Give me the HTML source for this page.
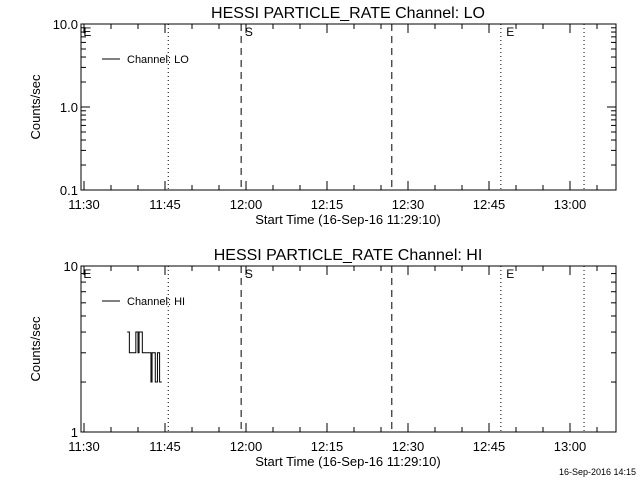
<!DOCTYPE html>
<html><head><meta charset="utf-8"><style>
body{margin:0;background:#fff;}
svg{display:block;font-family:"Liberation Sans",sans-serif;}
text{fill:#000;}
</style></head><body>
<svg id="c" width="640" height="480" xmlns="http://www.w3.org/2000/svg"></svg>
<script>
const xTickLabels=["11:30","11:45","12:00","12:15","12:30","12:45","13:00"];
const xTickMinutes=[0,15,30,45,60,75,90];
const dottedLines=[15.6,77.2,92.6];
const dashedLines=[29.1,57.0];
const flagLabels=["E","S","E"];
const flagMinutes=[-0.3,29.6,78.0];
const hiTimes=[8.0,8.4,8.8,9.2,9.6,10.0,10.2,10.4,10.8,11.2,11.6,12.0,12.4,12.6,12.8,13.2,13.6,14.0,14.4];
const hiCounts=[4,3,3,3,4,3,4,4,3,3,3,3,2,3,3,2,3,2,2];
const loTimes=[];
const loCounts=[];
const NS="http://www.w3.org/2000/svg";
const svg=document.getElementById('c');
const PX0=81,PX1=616;
function xs(m){return 84+5.4*m;}
const XMAX=(PX1-84)/5.4;
function mk(t,a,p){const e=document.createElementNS(NS,t);for(const k in a)e.setAttribute(k,a[k]);(p||svg).appendChild(e);return e;}
function panel(o){
  const g=mk('g',{});
  
  
  const top=o.top,bot=o.bot;
  const ys=v=>bot-(Math.log10(v)-Math.log10(o.ymin))/(Math.log10(o.ymax)-Math.log10(o.ymin))*(bot-top);
  const fr=mk('rect',{x:PX0,y:top,width:PX1-PX0,height:bot-top,fill:'none',stroke:'#000','stroke-width':1},g);
  
  for(let m=0;m<=XMAX;m+=5){
    const x=xs(m),maj=xTickMinutes.includes(m),L=maj?9:5;
    mk('line',{x1:x,y1:bot,x2:x,y2:bot-L,stroke:'#000'},g);
    mk('line',{x1:x,y1:top,x2:x,y2:top+L,stroke:'#000'},g);
  }
  xTickLabels.forEach((l,i)=>{const t=mk('text',{x:xs(xTickMinutes[i]),y:bot+19,'font-size':13,'text-anchor':'middle'},g);t.textContent=l;
    });
  for(let d=o.ymin;d<o.ymax;d*=10){for(let k=1;k<=10;k++){const v=d*k;if(v>o.ymax*1.0001)continue;const y=ys(v);const L=(k==1||k==10)?9:5;
    mk('line',{x1:PX0,y1:y,x2:PX0+L,y2:y,stroke:'#000'},g);mk('line',{x1:PX1,y1:y,x2:PX1-L,y2:y,stroke:'#000'},g);}}
  o.yLabels.forEach((l,i)=>{const t=mk('text',{x:PX0-3,y:ys(o.yVals[i])+5,'font-size':13,'text-anchor':'end'},g);t.textContent=l;
    });
  dottedLines.forEach(m=>{const l=mk('line',{x1:xs(m),y1:top,x2:xs(m),y2:bot,stroke:'#000','stroke-dasharray':'1,3'},g);});
  dashedLines.forEach(m=>{const l=mk('line',{x1:xs(m),y1:top,x2:xs(m),y2:bot,stroke:'#000','stroke-dasharray':'7,5'},g);});
  flagLabels.forEach((l,i)=>{const t=mk('text',{x:xs(flagMinutes[i])+1,y:top+12,'font-size':12},g);t.textContent=l;});
  const ti=mk('text',{x:348,y:top-6,'font-size':16,'text-anchor':'middle'},g);ti.textContent=o.title;
  const xt=mk('text',{x:348,y:bot+34,'font-size':13,'text-anchor':'middle'},g);xt.textContent='Start Time (16-Sep-16 11:29:10)';
  const cy=(top+bot)/2;
  const yt=mk('text',{x:40,y:cy,'font-size':13,'text-anchor':'middle',transform:`rotate(-90 40 ${cy})`},g);yt.textContent='Counts/sec';
  const lg=mk('g',{},g);
  mk('line',{x1:102,y1:top+35,x2:120,y2:top+35,stroke:'#000'},lg);
  const lt=mk('text',{x:127,y:top+39,'font-size':11},lg);lt.textContent=o.legend;
  if(o.t.length){let d='';o.t.forEach((m,i)=>{const x=xs(m),y=ys(o.v[i]);if(i==0)d+=`M${x},${y}`;else d+=`V${y}`;if(i<o.t.length-1)d+=`H${xs(o.t[i+1])}`;});
    const p=mk('path',{d:d,fill:'none',stroke:'#000','stroke-width':1},g);}
}
panel({name:'lo-panel',top:24,bot:190,ymin:0.1,ymax:10,yVals:[0.1,1,10],yLabels:['0.1','1.0','10.0'],title:'HESSI PARTICLE_RATE Channel: LO',legend:'Channel: LO',t:loTimes,v:loCounts,series:'lo-series'});
panel({name:'hi-panel',top:266,bot:432,ymin:1,ymax:10,yVals:[1,10],yLabels:['1','10'],title:'HESSI PARTICLE_RATE Channel: HI',legend:'Channel: HI',t:hiTimes,v:hiCounts,series:'hi-series'});
const ts=mk('text',{x:636,y:475,'font-size':9,'text-anchor':'end'});ts.textContent='16-Sep-2016 14:15';

</script>
</body></html>
